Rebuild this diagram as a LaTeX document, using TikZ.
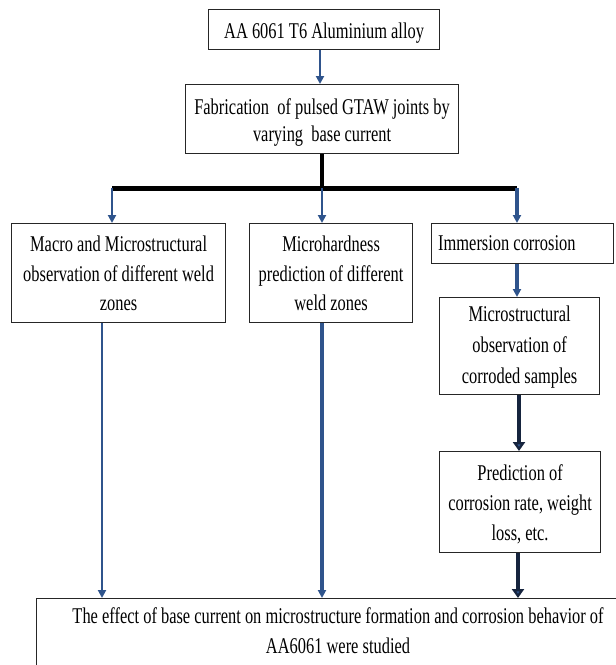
\documentclass[tikz,border=0pt]{standalone}
\usepackage{fontspec}
\setmainfont{Liberation Serif}[FakeStretch=0.73]
\usetikzlibrary{arrows.meta,calc}
\definecolor{arrblue}{RGB}{47,84,140}
\definecolor{navy}{RGB}{22,36,62}
\begin{document}
\begin{tikzpicture}[x=1pt,y=-1pt,
  box/.style={draw=black!85,line width=1.2pt,rectangle,inner sep=0pt,anchor=north west},
  txt/.style={font=\fontsize{22.5}{29.5}\selectfont,align=center,inner sep=0pt,anchor=north},
  bluearr/.style={draw=arrblue,line width=2.8pt,-{Triangle[length=8pt,width=8pt]}},
  darkarr/.style={draw=navy,line width=4.5pt,-{Triangle[length=9pt,width=12pt,fill=arrblue]}},
  blackline/.style={draw=black,line width=3.5pt}
]
\useasboundingbox (0,0) rectangle (616,665);
% boxes
\node[box,minimum width=231pt,minimum height=40pt] (b1) at (208,9) {};
\node[txt] (t1) at ($(b1.north)+(0,14)$) {AA 6061 T6 Aluminium alloy};
\node[box,minimum width=273pt,minimum height=69pt] (b2) at (185,84) {};
\node[txt,font=\fontsize{22.5}{27}\selectfont] (t2) at ($(b2.north)+(0,14)$) {Fabrication\ \ of pulsed GTAW joints by\\varying\ \ base current};
\node[box,minimum width=214pt,minimum height=99pt] (b3) at (11,223) {};
\node[txt] (t3) at ($(b3.north)+(0,13)$) {Macro and Microstructural\\observation of different weld\\zones};
\node[box,minimum width=163pt,minimum height=99pt] (b4) at (249,223) {};
\node[txt] (t4) at ($(b4.north)+(0,13)$) {Microhardness\\prediction of different\\weld zones};
\node[box,minimum width=182pt,minimum height=40pt] (b5) at (431,223) {};
\node[txt,anchor=north west] (t5) at ($(b5.north west)+(7,12)$) {Immersion corrosion};
\node[box,minimum width=160pt,minimum height=97pt] (b6) at (439,297) {};
\node[txt,font=\fontsize{22.5}{31}\selectfont] (t6) at ($(b6.north)+(0,8.5)$) {Microstructural\\observation of\\corroded samples};
\node[box,minimum width=161pt,minimum height=101pt] (b7) at (439,451) {};
\node[txt,font=\fontsize{22.5}{30}\selectfont] (t7) at ($(b7.north)+(0,13)$) {Prediction of\\corrosion rate, weight\\loss, etc.};
\node[box,minimum width=604pt,minimum height=80pt] (b8) at (36,598) {};
\node[txt] (t8) at (338,607.5) {The effect of base current on microstructure formation and corrosion behavior of\\AA6061 were studied};
% junction coordinates
\coordinate (j0) at (322,188);
\coordinate (jl) at (112,188);
\coordinate (jr) at (517,188);
% connectors
\draw[bluearr] (b1.south -| 320,0) -- (b2.north -| 320,0);
\draw[blackline] (b2.south -| j0) -- (j0);
\draw[draw=black,line width=5pt] (jl) -- (jr);
\draw[bluearr] (jl) -- (jl |- b3.north);
\draw[bluearr] (j0) -- (j0 |- b4.north);
\draw[bluearr,line width=3.2pt] (jr) -- (jr |- b5.north);
\draw[bluearr,line width=3.5pt] (b5.south -| 517,0) -- (b6.north -| 517,0);
\draw[darkarr] (b6.south -| 519,0) -- (b7.north -| 519,0);
\draw[bluearr,line width=2.5pt] (b3.south -| 102,0) -- (b8.north -| 102,0);
\draw[bluearr,line width=3.5pt] (b4.south -| 322,0) -- (b8.north -| 322,0);
\draw[darkarr] (b7.south -| 518,0) -- (b8.north -| 518,0);
\end{tikzpicture}
\end{document}
